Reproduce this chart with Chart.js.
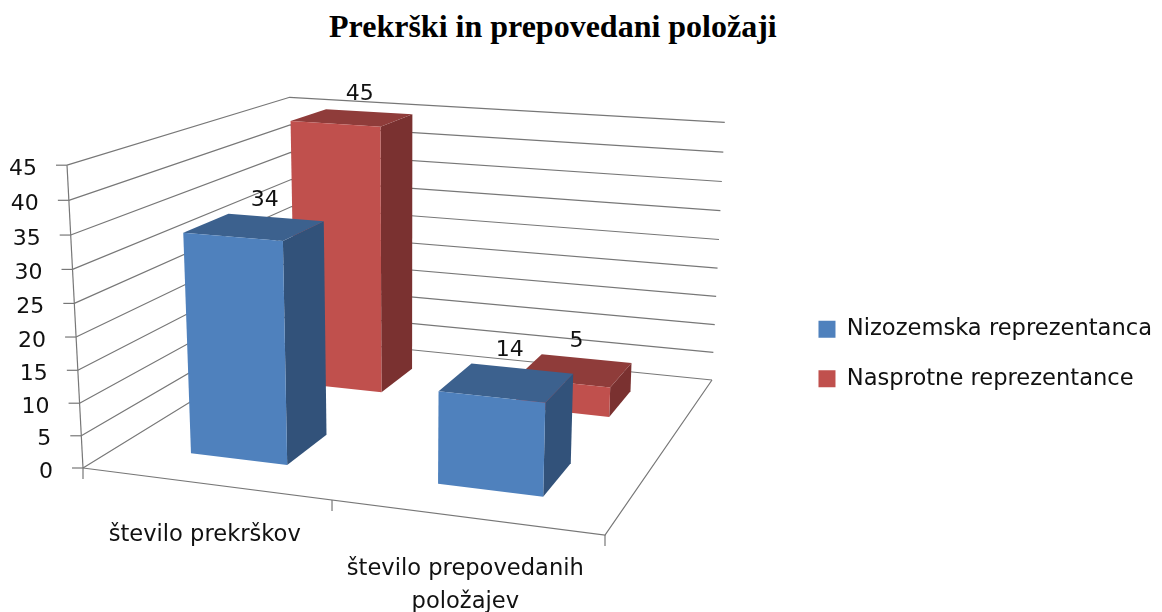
<!DOCTYPE html>
<html>
<head>
<meta charset="utf-8">
<title>Prekrški in prepovedani položaji</title>
<script src="https://cdn.jsdelivr.net/npm/chart.js@4/dist/chart.umd.min.js"></script>
<style>
    body { margin: 0; background: #fff; }
    #wrap { position: relative; width: 1162px; height: 612px; overflow: hidden; }
    #chart-title {
        position: absolute; left: 329px; top: 8px; margin: 0;
        font: bold 32px "Liberation Serif", serif; color: #000; white-space: nowrap;
    }
    /* the original chart is a soft, scaled up image */
    canvas { display: block; filter: blur(0.5px); }
</style>
</head>
<body>
<div id="wrap">
    <h1 id="chart-title">Prekrški in prepovedani položaji</h1>
    <canvas id="chart-area" width="1162" height="612"></canvas>
</div>
<script>
// Chart data
const categories = ['število prekrškov', ['število prepovedanih', 'položajev']];
const seriesNames = ['Nizozemska reprezentanca', 'Nasprotne reprezentance'];
const dutchValues = [34, 14];
const opponentValues = [45, 5];
const valueTicks = [0, 5, 10, 15, 20, 25, 30, 35, 40, 45];

// Colours for front, top and side faces of each series
const faceColors = [
    { front: '#4f81bd', top: '#3c618e', side: '#32527a' },
    { front: '#c0504d', top: '#8f3c3a', side: '#7a3130' }
];

// Depth range of each series on the floor (0 = front, 1 = back)
const seriesDepth = [[0.147, 0.343], [0.655, 0.851]];

const textFont = '"DejaVu Sans", sans-serif';
const textColor = '#111';
const lineColor = '#777';

// Floor of the plot box in perspective: front-left, front-right, back-right, back-left
const floorCorners = [[83, 468], [605, 535], [712, 380], [294, 338]];
// Point where the vertical edges meet, and how fast height pulls towards it
const verticalVanish = [405, 6567];
const heightPull = -0.0473;

// Unit square to quad mapping, homogeneous result
function makeHomography(q) {
    const [[x0, y0], [x1, y1], [x2, y2], [x3, y3]] = q;
    const dx1 = x1 - x2, dx2 = x3 - x2, sx = x0 - x1 + x2 - x3;
    const dy1 = y1 - y2, dy2 = y3 - y2, sy = y0 - y1 + y2 - y3;
    const den = dx1 * dy2 - dx2 * dy1;
    const g = (sx * dy2 - dx2 * sy) / den;
    const h = (dx1 * sy - sx * dy1) / den;
    const a = x1 - x0 + g * x1, b = x3 - x0 + h * x3;
    const d = y1 - y0 + g * y1, e = y3 - y0 + h * y3;
    return (u, v) => [a * u + b * v + x0, d * u + e * v + y0, g * u + h * v + 1];
}

const floorMap = makeHomography(floorCorners);

// x across, y up, z into the picture, all 0..1
function project(x, y, z) {
    const f = floorMap(x, z);
    const k = heightPull * y;
    const w = f[2] + k;
    return [(f[0] + verticalVanish[0] * k) / w, (f[1] + verticalVanish[1] * k) / w];
}

function drawLine(ctx, points) {
    ctx.beginPath();
    points.forEach((p, i) => i ? ctx.lineTo(p[0], p[1]) : ctx.moveTo(p[0], p[1]));
    ctx.strokeStyle = lineColor;
    ctx.lineWidth = 1.2;
    ctx.stroke();
}

function fillFace(ctx, points, color) {
    ctx.beginPath();
    points.forEach((p, i) => i ? ctx.lineTo(p[0], p[1]) : ctx.moveTo(p[0], p[1]));
    ctx.closePath();
    ctx.fillStyle = color;
    ctx.fill();
}

// Draws the box, the axes and the bars through the projection
const perspectivePlugin = {
    id: 'perspective',
    beforeDatasetsDraw(chart) {
        const ctx = chart.ctx;
        const xScale = chart.scales.x;
        const yScale = chart.scales.y;
        const toX = px => (px - xScale.left) / xScale.width;
        const toY = px => (yScale.bottom - px) / yScale.height;

        ctx.save();

        // Grid lines on the two walls and the value axis
        ctx.font = '22px ' + textFont;
        ctx.textAlign = 'right';
        ctx.textBaseline = 'middle';
        yScale.ticks.forEach(tick => {
            const y = toY(yScale.getPixelForValue(tick.value));
            const start = project(0, y, 0);
            drawLine(ctx, [start, project(0, y, 1), project(1, y, 1)]);
            drawLine(ctx, [[start[0] - 11, start[1]], start]);
            ctx.fillStyle = textColor;
            ctx.fillText(String(tick.value), start[0] - 30, start[1] + 4);
        });

        // Floor edges and axis ticks
        drawLine(ctx, [project(0, 0, 0), project(0, 1, 0)]);
        drawLine(ctx, [project(0, 0, 0), project(1, 0, 0), project(1, 0, 1)]);
        [0, 0.5, 1].forEach(x => {
            const p = project(x, 0, 0);
            drawLine(ctx, [p, [p[0], p[1] + 11]]);
        });

        // Category labels under the front edge
        ctx.textAlign = 'center';
        ctx.font = '22.6px ' + textFont;
        xScale.ticks.forEach((tick, i) => {
            const p = project(toX(xScale.getPixelForTick(i)), 0, 0);
            [].concat(categories[i]).forEach((line, n) => {
                ctx.fillStyle = textColor;
                ctx.fillText(line, p[0], p[1] + 52 + n * 33);
            });
        });

        // Back series first so the front one covers it
        const labels = [];
        for (let ds = chart.data.datasets.length - 1; ds >= 0; ds--) {
            const colors = faceColors[ds];
            const [z0, z1] = seriesDepth[ds];
            chart.getDatasetMeta(ds).data.forEach((bar, i) => {
                const x0 = toX(bar.x - bar.width / 2);
                const x1 = toX(bar.x + bar.width / 2);
                const y = toY(bar.y);
                fillFace(ctx, [project(x1, 0, z0), project(x1, 0, z1), project(x1, y, z1), project(x1, y, z0)], colors.side);
                fillFace(ctx, [project(x0, y, z0), project(x1, y, z0), project(x1, y, z1), project(x0, y, z1)], colors.top);
                fillFace(ctx, [project(x0, 0, z0), project(x1, 0, z0), project(x1, y, z0), project(x0, y, z0)], colors.front);
                labels.push({ at: project(x0 + (x1 - x0) * 0.3, y, z1), text: String(chart.data.datasets[ds].data[i]) });
            });
        }

        // Value labels go on top
        ctx.font = '22px ' + textFont;
        labels.forEach(label => {
            ctx.fillStyle = textColor;
            ctx.fillText(label.text, label.at[0] + 8, label.at[1] - 16);
        });

        ctx.restore();
        return false;
    }
};

new Chart(document.getElementById('chart-area'), {
    type: 'bar',
    data: {
        labels: categories,
        datasets: [
            { label: seriesNames[0], data: dutchValues, backgroundColor: faceColors[0].front },
            { label: seriesNames[1], data: opponentValues, backgroundColor: faceColors[1].front }
        ]
    },
    options: {
        responsive: false,
        animation: false,
        layout: { padding: { top: 96 } },
        datasets: { bar: { grouped: false, categoryPercentage: 1, barPercentage: 0.4 } },
        scales: {
            x: { display: false },
            y: {
                display: false,
                min: 0,
                max: 45,
                afterBuildTicks: scale => { scale.ticks = valueTicks.map(value => ({ value })); }
            }
        },
        plugins: {
            tooltip: { enabled: false },
            legend: {
                position: 'right',
                labels: {
                    boxWidth: 17,
                    boxHeight: 17,
                    padding: 27,
                    color: textColor,
                    font: { family: '"DejaVu Sans", sans-serif', size: 22.6 }
                }
            }
        }
    },
    plugins: [perspectivePlugin]
});
</script>
</body>
</html>
